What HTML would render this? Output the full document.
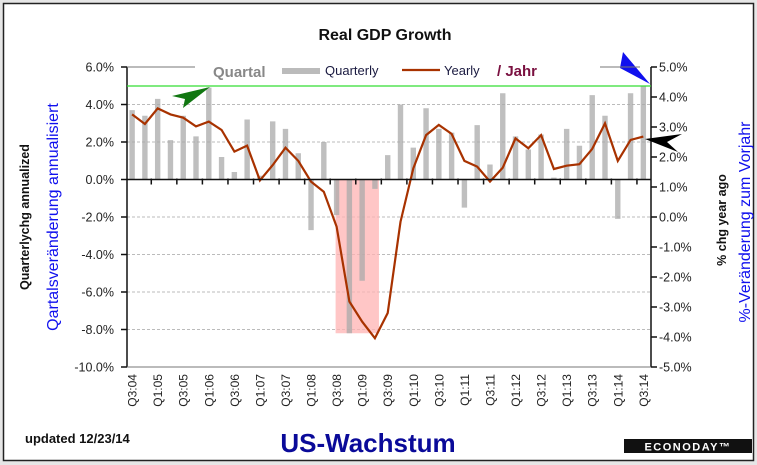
<!DOCTYPE html>
<html><head><meta charset="utf-8"><style>
html,body{margin:0;padding:0;background:#e6e6e6;}
svg{display:block;font-family:"Liberation Sans",sans-serif;}
</style></head><body>
<svg id="chart" width="757" height="465">
<rect x="0" y="0" width="757" height="465" fill="#e6e6e6"/>
<rect x="3.5" y="3.5" width="750" height="457" fill="#fff" stroke="#222" stroke-width="1.5"/>
<text x="385" y="40" text-anchor="middle" font-size="16" font-weight="bold" fill="#111">Real GDP Growth</text>
<g id="grid"></g>
<rect id="recession" fill="#ffb3b3" opacity="0.75"/>
<g id="bars"></g>
<path id="yline" fill="none" stroke="#a83200" stroke-width="2.2"/>
<g id="axes"></g>
<line x1="127" y1="86" x2="651" y2="86" stroke="#33dd33" stroke-width="1.3"/>
<polygon points="172,96 210,87 183,108 185,99" fill="#117711"/>
<polygon points="620,68 623,52 650,84" fill="#1010ee"/>
<polygon points="645,139 682,134 667,142 678,152" fill="#000"/>
<line x1="600" y1="67" x2="640" y2="67" stroke="#777"/>
<line x1="127" y1="67" x2="195" y2="67" stroke="#777"/>
<g>
<text x="213" y="77" font-size="15" font-weight="bold" fill="#888">Quartal</text>
<rect x="282" y="68" width="38" height="6" fill="#bbb"/>
<text x="325" y="75" font-size="13" fill="#1a1a40">Quarterly</text>
<line x1="402" y1="70" x2="440" y2="70" stroke="#a83200" stroke-width="2.2"/>
<text x="444" y="75" font-size="13" fill="#1a1a40">Yearly</text>
<text x="497" y="76" font-size="15" font-weight="bold" fill="#7a1040">/ Jahr</text>
</g>
<text transform="translate(29,217) rotate(-90)" text-anchor="middle" font-size="12.5" font-weight="bold" fill="#111">Quarterlychg annualized</text>
<text transform="translate(58,217) rotate(-90)" text-anchor="middle" font-size="16" fill="#1010ee">Qartalsveränderung annualisiert</text>
<text transform="translate(726,220) rotate(-90)" text-anchor="middle" font-size="12.5" font-weight="bold" fill="#111">% chg year ago</text>
<text transform="translate(750,222) rotate(-90)" text-anchor="middle" font-size="16" fill="#1010ee">%-Veränderung zum Vorjahr</text>
<text x="25" y="443" font-size="13" font-weight="bold" fill="#111">updated 12/23/14</text>
<text x="368" y="452" text-anchor="middle" font-size="26" font-weight="bold" fill="#0a0a99">US-Wachstum</text>
<rect x="624" y="439" width="128" height="14" fill="#111"/>
<text x="688" y="450.5" text-anchor="middle" font-size="11" font-weight="bold" fill="#fff" letter-spacing="1.5">ECONODAY™</text>
</svg>
<script>
const categories=["Q3:04","Q4:04","Q1:05","Q2:05","Q3:05","Q4:05","Q1:06","Q2:06","Q3:06","Q4:06","Q1:07","Q2:07","Q3:07","Q4:07","Q1:08","Q2:08","Q3:08","Q4:08","Q1:09","Q2:09","Q3:09","Q4:09","Q1:10","Q2:10","Q3:10","Q4:10","Q1:11","Q2:11","Q3:11","Q4:11","Q1:12","Q2:12","Q3:12","Q4:12","Q1:13","Q2:13","Q3:13","Q4:13","Q1:14","Q2:14","Q3:14"];
const quarterly=[3.7,3.4,4.3,2.1,3.4,2.3,4.9,1.2,0.4,3.2,0.2,3.1,2.7,1.4,-2.7,2.0,-1.9,-8.2,-5.4,-0.5,1.3,4.0,1.7,3.8,2.7,2.5,-1.5,2.9,0.8,4.6,2.3,1.6,2.4,0.1,2.7,1.8,4.5,3.4,-2.1,4.6,5.0];
const yearly=[3.42,3.1,3.62,3.42,3.31,3.02,3.18,2.9,2.18,2.38,1.22,1.73,2.31,1.87,1.18,0.84,-0.32,-2.82,-3.49,-4.04,-3.2,-0.16,1.62,2.73,3.07,2.77,1.87,1.68,1.18,1.64,2.62,2.29,2.73,1.6,1.71,1.76,2.27,3.12,1.87,2.57,2.68];
const leftTicks=[6,4,2,0,-2,-4,-6,-8,-10];
const rightTicks=[5,4,3,2,1,0,-1,-2,-3,-4,-5];
const recessionRange=["Q3:08","Q2:09"];
const NS="http://www.w3.org/2000/svg";
const X0=127,X1=651,Y0=67,Y1=367,step=(X1-X0)/categories.length;
const xC=i=>X0+step*(i+0.4);
const yL=v=>Y0+(6-v)/16*(Y1-Y0);
const yR=v=>Y0+(5-v)/10*(Y1-Y0);
function mk(tag,attrs,parent){const e=document.createElementNS(NS,tag);for(const k in attrs)e.setAttribute(k,attrs[k]);parent.appendChild(e);return e;}
const grid=document.getElementById('grid'),bars=document.getElementById('bars'),axes=document.getElementById('axes');
leftTicks.forEach(v=>{
 if(v!==6&&v!==0&&v!==-10){const g=mk('line',{x1:X0,x2:X1,y1:yL(v),y2:yL(v),stroke:'#bbb','stroke-dasharray':'3,2'},grid);
 
 }
 const t=mk('line',{x1:X0-6,x2:X0,y1:yL(v),y2:yL(v),stroke:'#111','stroke-width':1.5},axes);
 
 
 const tx=mk('text',{x:X0-13,y:yL(v)+4.5,'text-anchor':'end','font-size':12.5,fill:'#222'},axes);
 tx.textContent=v.toFixed(1)+'%';
 
 
});
rightTicks.forEach(v=>{
 const t=mk('line',{x1:X1,x2:X1+6,y1:yR(v),y2:yR(v),stroke:'#111','stroke-width':1.5},axes);
 
 
 const tx=mk('text',{x:X1+8,y:yR(v)+4.5,'font-size':12.5,fill:'#222'},axes);
 tx.textContent=v.toFixed(1)+'%';
 
 
});
const r0=categories.indexOf(recessionRange[0]),r1=categories.indexOf(recessionRange[1]);
const rec=document.getElementById('recession');
rec.setAttribute('x',xC(r0)-1);rec.setAttribute('width',xC(r1)-xC(r0)+5);
rec.setAttribute('y',yL(0));rec.setAttribute('height',yL(-8.2)-yL(0));
quarterly.forEach((v,i)=>{
 const y=Math.min(yL(v),yL(0)),h=Math.abs(yL(v)-yL(0));
 const b=mk('rect',{x:xC(i)-2.7,y:y,width:5.4,height:h,fill:'#aaa',opacity:0.75},bars);
 
 
});
document.getElementById('yline').setAttribute('d',yearly.map((v,i)=>(i?'L':'M')+xC(i).toFixed(1)+','+yR(v).toFixed(1)).join(''));
const mkLine=(a,name)=>{const l=mk('line',a,axes);};
mkLine({x1:X0,x2:X0,y1:Y0,y2:Y1,stroke:'#111','stroke-width':1.5},'left-axis');
mkLine({x1:X1,x2:X1,y1:Y0,y2:Y1,stroke:'#111','stroke-width':1.5},'right-axis');
mkLine({x1:X0,x2:X1,y1:yL(0),y2:yL(0),stroke:'#111','stroke-width':1.5},'zero-line');
mkLine({x1:X0,x2:X1,y1:Y1,y2:Y1,stroke:'#777','stroke-width':1},'bottom-axis');
categories.forEach((c,i)=>{
 if(i%2===1){const t=mk('line',{x1:xC(i)+step*0.5,x2:xC(i)+step*0.5,y1:yL(0)-1,y2:yL(0)+5,stroke:'#111','stroke-width':1.5},axes);
 
 }
 if(i%2===0){const tx=mk('text',{transform:`translate(${xC(i)+4.5},${Y1+7}) rotate(-90)`,'text-anchor':'end','font-size':12,fill:'#222'},axes);
 tx.textContent=c;
 
 }
});
</script>
</body></html>
